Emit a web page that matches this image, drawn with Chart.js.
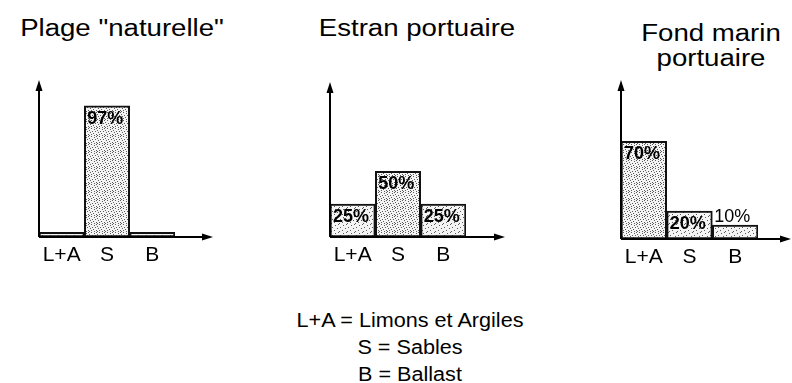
<!DOCTYPE html>
<html>
<head>
<meta charset="utf-8">
<script src="https://cdn.jsdelivr.net/npm/chart.js@4.4.0/dist/chart.umd.min.js"></script>
<style>
  body { margin: 0; background: #fff; width: 792px; height: 383px; position: relative; overflow: hidden;
         font-family: "Liberation Sans", Arial, Helvetica, sans-serif; color: #000; }
  .box { position: absolute; top: 0; }
  .title { position: absolute; font-size: 23px; line-height: 25px; text-align: center; white-space: nowrap;
           transform: scaleX(1.2); }
  .note { position: absolute; left: 260px; width: 300px; top: 307px; font-size: 20px; line-height: 27px;
          text-align: center; white-space: nowrap; transform: scaleX(1.08); }
</style>
</head>
<body>
<div class="title" style="left:2px; width:240px; top:16px;">Plage "naturelle"</div>
<div class="title" style="left:297px; width:240px; top:16px;">Estran portuaire</div>
<div class="title" style="left:611px; width:200px; top:21px;">Fond marin<br>portuaire</div>

<div class="box" style="left:0px;"><canvas id="chart1" width="240" height="280"></canvas></div>
<div class="box" style="left:290px;"><canvas id="chart2" width="240" height="280"></canvas></div>
<div class="box" style="left:580px;"><canvas id="chart3" width="212" height="280"></canvas></div>

<div class="note">L+A = Limons et Argiles<br>S = Sables<br>B = Ballast</div>

<script>
const categories = ["L+A", "S", "B"];
const plageValues = [3.5, 97, 3.5];
const estranValues = [25, 50, 25];
const fondValues = [70, 20, 10];

const FONT = "'Liberation Sans', Arial, sans-serif";

// stippled fill: white paper with scattered dark dots
function makeStipple(dots) {
  const c = document.createElement("canvas");
  c.width = 8; c.height = 8;
  const g = c.getContext("2d");
  g.fillStyle = "#f4f4f4";
  g.fillRect(0, 0, 8, 8);
  g.fillStyle = "#5a5a5a";
  dots.forEach(p => g.fillRect(p[0], p[1], 1, 1));
  return g.createPattern(c, "repeat");
}
const denseFill = makeStipple([[0, 0], [3, 0], [6, 1], [1, 2], [4, 3], [7, 3], [2, 4], [5, 5], [0, 6], [3, 6], [6, 7], [1, 7]]);
const lightFill = makeStipple([[0, 0], [5, 1], [2, 3], [7, 4], [4, 6], [1, 7]]);

// axes with arrow heads, x axis runs past the last bar
const arrowAxes = {
  id: "arrowAxes",
  afterDraw(chart, args, opts) {
    const { ctx, chartArea } = chart;
    const left = chartArea.left, bottom = chartArea.bottom, top = chartArea.top;
    const endX = opts.arrowX;
    ctx.save();
    ctx.strokeStyle = "#000";
    ctx.fillStyle = "#000";
    ctx.lineWidth = 2;
    ctx.beginPath();
    ctx.moveTo(left, bottom);
    ctx.lineTo(left, top + 8);
    ctx.moveTo(left, bottom);
    ctx.lineTo(endX - 8, bottom);
    ctx.stroke();
    ctx.beginPath();
    ctx.moveTo(left, top);
    ctx.lineTo(left - 3.5, top + 11);
    ctx.lineTo(left + 3.5, top + 11);
    ctx.closePath();
    ctx.fill();
    ctx.beginPath();
    ctx.moveTo(endX, bottom);
    ctx.lineTo(endX - 11, bottom - 3.5);
    ctx.lineTo(endX - 11, bottom + 3.5);
    ctx.closePath();
    ctx.fill();
    ctx.restore();
  }
};

// percentage labels: inside the bar top, or above it when the bar is short
const barLabels = {
  id: "barLabels",
  afterDatasetsDraw(chart) {
    const { ctx } = chart;
    const values = chart.data.datasets[0].data;
    chart.getDatasetMeta(0).data.forEach((bar, i) => {
      const v = values[i];
      if (v < 5) return;
      const x = bar.x - bar.width / 2 + 2;
      ctx.save();
      ctx.fillStyle = "#000";
      ctx.textAlign = "left";
      if (v >= 15) {
        ctx.font = "bold 18px " + FONT;
        ctx.textBaseline = "top";
        ctx.fillText(v + "%", x + 1, bar.y + 4);
      } else {
        ctx.font = "18px " + FONT;
        ctx.textBaseline = "bottom";
        ctx.fillText(v + "%", x, bar.y + 1);
      }
      ctx.restore();
    });
  }
};

function makeChart(id, values, pad, yMax, arrowX) {
  return new Chart(document.getElementById(id), {
    type: "bar",
    data: {
      labels: categories,
      datasets: [{
        data: values,
        backgroundColor: c => (c.raw >= 40 ? denseFill : lightFill),
        borderColor: "#111",
        borderWidth: 2,
        borderSkipped: false,
        categoryPercentage: 1,
        barPercentage: 1,
      }],
    },
    options: {
      responsive: false,
      animation: false,
      events: [],
      layout: { padding: pad },
      plugins: {
        legend: { display: false },
        tooltip: { enabled: false },
        arrowAxes: { arrowX: arrowX },
      },
      scales: {
        x: {
          grid: { display: false, drawTicks: false },
          border: { display: false },
          ticks: { color: "#000", padding: 6, font: { size: 21, family: FONT } },
          afterFit: s => { s.height = 30; },
        },
        y: { display: false, min: 0, max: yMax },
      },
    },
    plugins: [arrowAxes, barLabels],
  });
}

makeChart("chart1", plageValues, { left: 39, top: 80, right: 65, bottom: 13 }, 116, 213);
makeChart("chart2", estranValues, { left: 40, top: 82, right: 64, bottom: 13 }, 118, 215);
makeChart("chart3", fondValues, { left: 41, top: 80, right: 34, bottom: 11 }, 114, 211);
</script>
</body>
</html>
